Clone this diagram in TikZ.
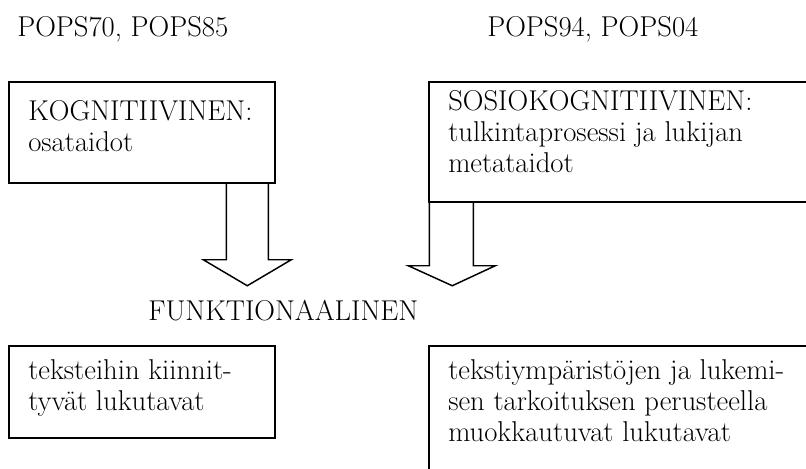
\documentclass[tikz,border=0pt]{standalone}
\usetikzlibrary{calc,fit}
\begin{document}
\begin{tikzpicture}[x=0.75pt,y=-0.75pt,
  frame/.style={draw, line width=1.1pt, rectangle, inner sep=0pt},
  txt/.style={font=\fontsize{21.5}{23.25}\selectfont, inner sep=0pt, align=left, anchor=north west},
  blockarrow/.style={draw, line width=1.1pt, line join=miter}]
\useasboundingbox (0,0) rectangle (806,468);
\begin{scope}
\clip (0,0) rectangle (806,468);

% column headings
\node[txt] (leftcap) at (17,16) {POPS70, POPS85};
\node[txt] (rightcap) at (487,16) {POPS94, POPS04};

% upper boxes
\node[frame, fit={(9,82) (275,183)}] (kog) {};
\node[txt] (kogtext) at (28,100) {KOGNITIIVINEN:\\osataidot};
\node[frame, fit={(429,82) (830,202)}] (sos) {};
\node[txt] (sostext) at (448,90) {SOSIOKOGNITIIVINEN:\\tulkintaprosessi ja lukijan\\metataidot};

% block arrows hanging from the upper boxes
\draw[blockarrow] ($(kog.south west)+(218,0)$) -- ++(0,76) -- ++(-23,0)
  -- ++(44,26) -- ++(44,-26) -- ++(-23,0) -- ++(0,-76);
\draw[blockarrow] ($(sos.south west)+(1,0)$) -- ++(0,63) -- ++(-21,0)
  -- ++(44,20) -- ++(43,-20) -- ++(-22,0) -- ++(0,-63);

% common heading
\node[txt] (funk) at (148,300) {FUNKTIONAALINEN};

% lower boxes
\node[frame, fit={(9,346) (275,438)}] (lowl) {};
\node[txt] (lowltext) at (28,359) {teksteihin kiinnit-\\tyvät lukutavat};
\node[frame, fit={(429,346) (830,500)}] (lowr) {};
\node[txt] (lowrtext) at (448,359) {tekstiympäristöjen ja lukemi-\\sen tarkoituksen perusteella\\muokkautuvat lukutavat};
\end{scope}
\end{tikzpicture}
\end{document}
